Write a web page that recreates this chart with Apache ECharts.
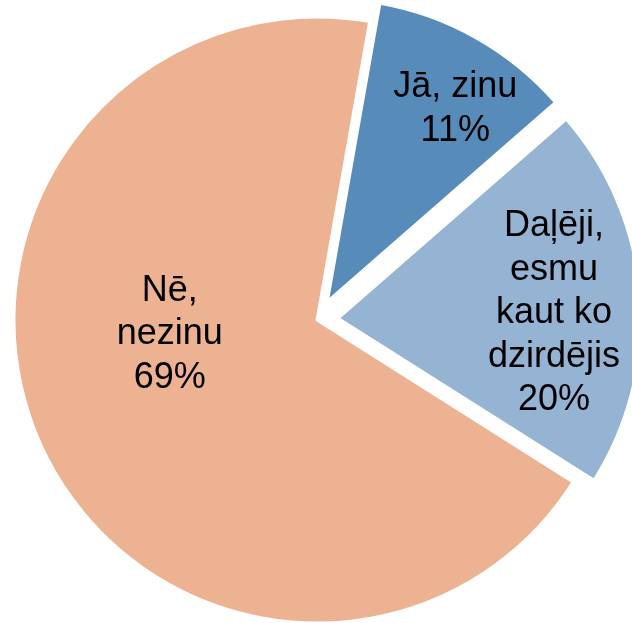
<!DOCTYPE html>
<html>
<head>
<meta charset="utf-8">
<script src="https://cdn.jsdelivr.net/npm/echarts@6/dist/echarts.min.js"></script>
<style>
html,body{margin:0;padding:0;background:#fff;}
#chart{width:632px;height:623px;}
</style>
</head>
<body>
<div id="chart"></div>
<script>
// Data (shares; labels show rounded percent)
const categories = ['Jā, zinu', 'Daļēji,\nesmu\nkaut ko\ndzirdējis', 'Nē,\nnezinu'];
const values = [10.8, 20.4, 68.8];
const exploded = [true, true, false];

// Style
const colors = ['#568BBA', '#95B4D4', '#ECB291'];
const labelShift = [[52, -58], [62, 7], [-6, -48]];

const chart = echarts.init(document.getElementById('chart'), null, {renderer: 'canvas'});
chart.setOption({
  animation: false,
  backgroundColor: '#ffffff',
  series: [{
    type: 'pie',
    center: [317, 320],
    radius: 303,
    startAngle: 80,
    clockwise: true,
    selectedMode: 'multiple',
    selectedOffset: 21,
    avoidLabelOverlap: false,
    itemStyle: { borderColor: '#ffffff', borderWidth: 3 },
    label: {
      show: true,
      position: 'inside',
      formatter: function (p) { return p.name + '\n' + Math.round(p.value) + '%'; },
      fontFamily: '"Liberation Sans", Arial, sans-serif',
      fontSize: 36,
      lineHeight: 43.5,
      color: '#000000'
    },
    labelLine: { show: false },
    emphasis: { disabled: true },
    labelLayout: function (params) {
      const s = labelShift[params.dataIndex];
      return { dx: s[0], dy: s[1] };
    },
    data: categories.map(function (c, i) {
      return {
        name: c,
        value: values[i],
        selected: exploded[i],
        itemStyle: { color: colors[i] }
      };
    })
  }]
});
</script>
</body>
</html>
